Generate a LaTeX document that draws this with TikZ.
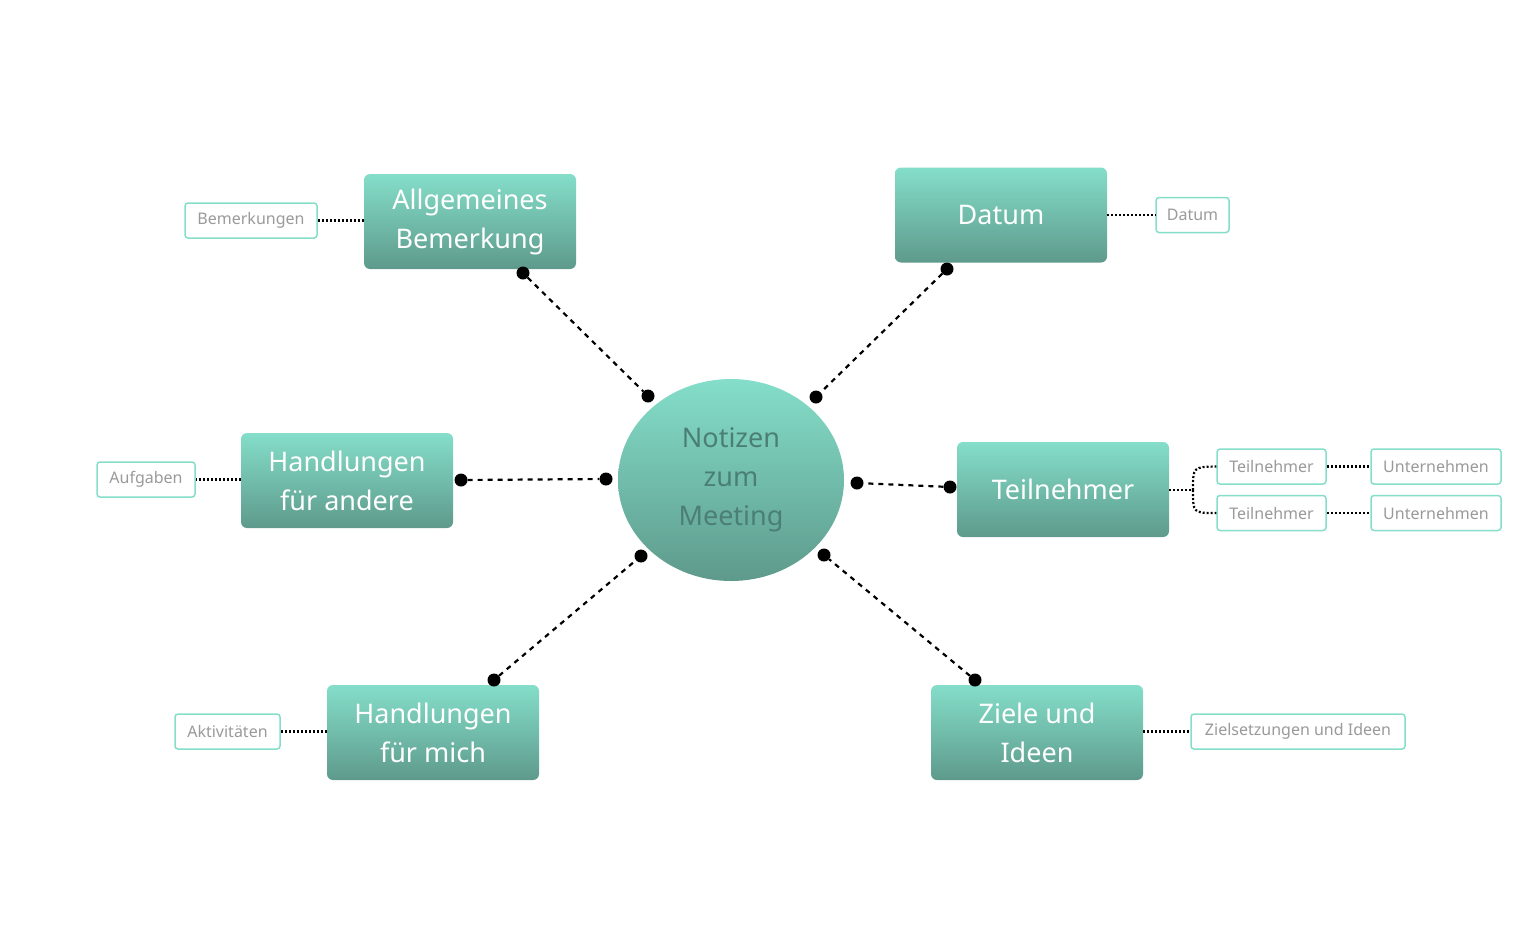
\documentclass[tikz,border=0pt]{standalone}
\usepackage{fontspec}
\setmainfont{Noto Sans}
\usetikzlibrary{shapes.geometric}
\definecolor{tl}{HTML}{84DEC9}
\definecolor{td}{HTML}{5E9A8C}
\definecolor{ctext}{HTML}{4B7F75}
\definecolor{gt}{HTML}{9A9A9A}
\tikzset{
 x=1pt,y=-1pt,
 main/.style={rounded corners=6pt,top color=tl,bottom color=td,draw=none,minimum width=212pt,minimum height=95pt,text=white,font=\bfseries\fontsize{27}{39}\selectfont,align=center,inner sep=0pt},
 leaf/.style={rounded corners=3pt,draw=tl,line width=1.5pt,fill=white,text=gt,font=\fontsize{16}{18}\selectfont,minimum height=35pt,inner sep=0pt},
 dot/.style={circle,fill=black,minimum size=13pt,inner sep=0pt},
 link/.style={line width=2.2pt,dash pattern=on 5pt off 5pt},
 lk/.style={line width=2.2pt,dash pattern=on 2pt off 2pt},
}
\begin{document}
\begin{tikzpicture}
\useasboundingbox (0,0) rectangle (1538,951);
\node[ellipse,top color=tl,bottom color=td,minimum width=226pt,minimum height=202pt,text=ctext,font=\bfseries\fontsize{27}{39}\selectfont,align=center] (c) at (731,480) {Notizen\\zum\\Meeting};
\node[main] (a) at (470,221.5) {Allgemeines\\Bemerkung};
\node[main] (d) at (1001,215) {Datum};
\node[main] (h) at (347,480.5) {Handlungen\\für andere};
\node[main] (t) at (1063,489.5) {Teilnehmer};
\node[main] (m) at (433,732.5) {Handlungen\\für mich};
\node[main] (z) at (1037,732.5) {Ziele und\\Ideen};
% dots
\node[dot] (a1) at (523,273) {}; \node[dot] (a2) at (648,396) {};
\node[dot] (d1) at (947,269) {}; \node[dot] (d2) at (816,397) {};
\node[dot] (h1) at (461,480) {}; \node[dot] (h2) at (606,479) {};
\node[dot] (t1) at (950,487) {}; \node[dot] (t2) at (857,483) {};
\node[dot] (m1) at (494,680) {}; \node[dot] (m2) at (641,556) {};
\node[dot] (z1) at (975,680) {}; \node[dot] (z2) at (824,555) {};
\draw[link] (a1)--(a2); \draw[link] (d1)--(d2); \draw[link] (h1)--(h2);
\draw[link] (t1)--(t2); \draw[link] (m1)--(m2); \draw[link] (z1)--(z2);
% leaves
\node[leaf,minimum width=132pt] (lb) at (251,220.5) {Bemerkungen};
\node[leaf,minimum width=73pt] (ld) at (1192.5,215) {Datum};
\node[leaf,minimum width=98pt] (la) at (146,479.5) {Aufgaben};
\node[leaf,minimum width=105pt] (lk) at (227.5,731.5) {Aktivitäten};
\node[leaf,minimum width=214pt] (lz) at (1298,731.5) {Zielsetzungen und Ideen};
\node[leaf,minimum width=109pt] (lt1) at (1271.5,466.5) {Teilnehmer};
\node[leaf,minimum width=109pt] (lt2) at (1271.5,513) {Teilnehmer};
\node[leaf,minimum width=130pt] (lu1) at (1436,466.5) {Unternehmen};
\node[leaf,minimum width=130pt] (lu2) at (1436,513) {Unternehmen};
\draw[lk] (a.west|-lb)--(lb); \draw[lk] (d.east|-ld)--(ld);
\draw[lk] (h.west|-la)--(la); \draw[lk] (m.west|-lk)--(lk);
\draw[lk] (z.east|-lz)--(lz);
\draw[lk] (lt1)--(lu1); \draw[lk] (lt2)--(lu2);
\coordinate (tb) at (1193,490);
\draw[lk] (t.east|-tb)--(tb);
\draw[lk] (tb) .. controls (1193,467) .. (lt1.west);
\draw[lk] (tb) .. controls (1193,513) .. (lt2.west);
\end{tikzpicture}
\end{document}
